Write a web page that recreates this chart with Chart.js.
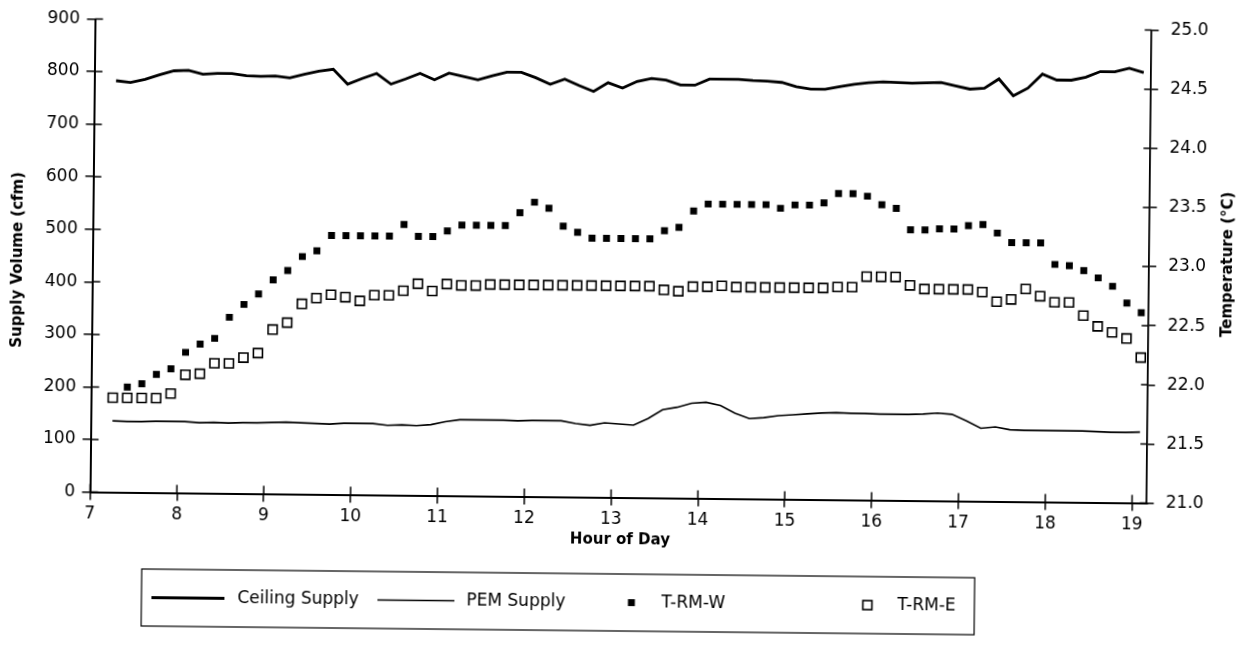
<!DOCTYPE html>
<html>
<head>
<meta charset="utf-8">
<title>Supply Volume and Room Temperature</title>
<script src="https://cdn.jsdelivr.net/npm/chart.js@4.4.1/dist/chart.umd.min.js"></script>
<style>
  html, body { margin: 0; padding: 0; background: #fff; overflow: hidden; }
  #wrap { width: 1246px; height: 650px; }
  /* the sheet sits slightly turned on the page */
  #chart { transform-origin: 620px 260px; transform: rotate(0.6deg); }
</style>
</head>
<body>
<div id="wrap"><canvas id="chart" width="1246" height="650"></canvas></div>
<script>
// 10-minute readings
const times = [
  '7:15', '7:25', '7:35', '7:45', '7:55',
  '8:05', '8:15', '8:25', '8:35', '8:45', '8:55',
  '9:05', '9:15', '9:25', '9:35', '9:45', '9:55',
  '10:05', '10:15', '10:25', '10:35', '10:45', '10:55',
  '11:05', '11:15', '11:25', '11:35', '11:45', '11:55',
  '12:05', '12:15', '12:25', '12:35', '12:45', '12:55',
  '13:05', '13:15', '13:25', '13:35', '13:45', '13:55',
  '14:05', '14:15', '14:25', '14:35', '14:45', '14:55',
  '15:05', '15:15', '15:25', '15:35', '15:45', '15:55',
  '16:05', '16:15', '16:25', '16:35', '16:45', '16:55',
  '17:05', '17:15', '17:25', '17:35', '17:45', '17:55',
  '18:05', '18:15', '18:25', '18:35', '18:45', '18:55',
  '19:05'
];

// supply air volume, cfm
const ceilingSupply = [
  783, 780, 786, 795, 803, 804, 797, 799, 799, 795,
  794, 795, 792, 799, 805, 809, 781, 792, 802, 782,
  792, 803, 791, 804, 798, 792, 800, 807, 807, 797,
  785, 795, 783, 772, 789, 779, 792, 798, 795, 786,
  786, 798, 798, 798, 796, 795, 793, 785, 781, 781,
  786, 791, 794, 796, 795, 794, 795, 796, 790, 784,
  786, 804, 772, 787, 814, 803, 803, 809, 820, 820,
  827, 819
];
const pemSupply = [
  136, 135, 135, 136, 136, 136, 134, 135, 134, 135,
  135, 136, 137, 136, 135, 134, 136, 136, 136, 133,
  134, 133, 135, 141, 145, 145, 145, 145, 144, 145,
  145, 145, 140, 137, 142, 140, 138, 151, 168, 173,
  181, 183, 177, 163, 153, 155, 159, 161, 163, 165,
  166, 165, 165, 164, 164, 164, 165, 167, 165, 153,
  139, 142, 137, 136, 136, 136, 136, 136, 135, 134,
  134, 135
];

// room temperatures, deg C
const tRmW = [
  null, 21.89, 21.92, 22.00, 22.05, 22.19, 22.26, 22.31, 22.49, 22.60,
  22.69, 22.81, 22.89, 23.01, 23.06, 23.19, 23.19, 23.19, 23.19, 23.19,
  23.29, 23.19, 23.19, 23.24, 23.29, 23.29, 23.29, 23.29, 23.40, 23.49,
  23.44, 23.29, 23.24, 23.19, 23.19, 23.19, 23.19, 23.19, 23.26, 23.29,
  23.43, 23.49, 23.49, 23.49, 23.49, 23.49, 23.46, 23.49, 23.49, 23.51,
  23.59, 23.59, 23.57, 23.50, 23.47, 23.29, 23.29, 23.30, 23.30, 23.33,
  23.34, 23.27, 23.19, 23.19, 23.19, 23.01, 23.00, 22.96, 22.90, 22.83,
  22.69, 22.61
];
const tRmE = [
  21.80, 21.80, 21.80, 21.80, 21.84, 22.00, 22.01, 22.10, 22.10, 22.15,
  22.19, 22.39, 22.45, 22.61, 22.66, 22.69, 22.67, 22.64, 22.69, 22.69,
  22.73, 22.79, 22.73, 22.79, 22.78, 22.78, 22.79, 22.79, 22.79, 22.79,
  22.79, 22.79, 22.79, 22.79, 22.79, 22.79, 22.79, 22.79, 22.76, 22.75,
  22.79, 22.79, 22.80, 22.79, 22.79, 22.79, 22.79, 22.79, 22.79, 22.79,
  22.80, 22.80, 22.89, 22.89, 22.89, 22.82, 22.79, 22.79, 22.79, 22.79,
  22.77, 22.69, 22.71, 22.80, 22.74, 22.69, 22.69, 22.58, 22.49, 22.44,
  22.39, 22.23
];

const hourTicks = [7, 8, 9, 10, 11, 12, 13, 14, 15, 16, 17, 18, 19];
const cfmTicks = [0, 100, 200, 300, 400, 500, 600, 700, 800, 900];
const tempTicks = [21.0, 21.5, 22.0, 22.5, 23.0, 23.5, 24.0, 24.5, 25.0];

const FONT = 'DejaVu Sans';
Chart.defaults.font.family = FONT;
Chart.defaults.color = '#000';

function toHours(t) {
  const [h, m] = t.split(':').map(Number);
  return h + m / 60;
}
const hours = times.map(toHours);
const asPoints = vals => vals.map((v, i) => ({ x: hours[i], y: v }));

// plot box inside the 1246x650 canvas
const AREA = { left: 92.5, right: 1149.3, top: 24.5, bottom: 497.6 };

const setTicks = list => scale => { scale.ticks = list.map(v => ({ value: v })); };

// short tick halves that cross into the plot
const innerTicks = {
  id: 'innerTicks',
  afterDatasetsDraw(chart) {
    const { ctx, chartArea: a, scales } = chart;
    ctx.save();
    ctx.strokeStyle = '#000';
    ctx.lineWidth = 1.5;
    ctx.beginPath();
    scales.x.ticks.forEach(t => {
      const x = scales.x.getPixelForValue(t.value);
      ctx.moveTo(x, a.bottom);
      ctx.lineTo(x, a.bottom - 8);
    });
    scales.yCfm.ticks.forEach(t => {
      const y = scales.yCfm.getPixelForValue(t.value);
      ctx.moveTo(a.left, y);
      ctx.lineTo(a.left + 8, y);
    });
    scales.yTemp.ticks.forEach(t => {
      const y = scales.yTemp.getPixelForValue(t.value);
      ctx.moveTo(a.right, y);
      ctx.lineTo(a.right - 7, y);
    });
    ctx.stroke();
    ctx.restore();
  }
};

function rotatedText(ctx, text, x, y) {
  ctx.save();
  ctx.translate(x, y);
  ctx.rotate(-Math.PI / 2);
  ctx.fillText(text, 0, 0);
  ctx.restore();
}

const axisTitles = {
  id: 'axisTitles',
  afterDraw(chart) {
    const { ctx, chartArea: a } = chart;
    const midY = (a.top + a.bottom) / 2;
    ctx.save();
    ctx.fillStyle = '#000';
    ctx.font = 'bold 15px "' + FONT + '"';
    ctx.textAlign = 'center';
    ctx.textBaseline = 'middle';
    ctx.fillText('Hour of Day', (a.left + a.right) / 2 + 2, 540);
    rotatedText(ctx, 'Supply Volume (cfm)', 18, midY + 5);
    rotatedText(ctx, 'Temperature (°C)', 1228, midY - 3);
    ctx.restore();
  }
};

// boxed legend under the chart
const legendBox = {
  id: 'legendBox',
  afterDraw(chart) {
    const { ctx } = chart;
    const box = { left: 145, top: 574, right: 978, bottom: 631 };
    const cy = (box.top + box.bottom) / 2;
    const slots = [
      { x0: 155, x1: 228, tx: 241 },
      { x0: 381, x1: 458, tx: 470 },
      { mx: 635, tx: 665 },
      { mx: 871, tx: 901 }
    ];
    ctx.save();
    ctx.strokeStyle = '#000';
    ctx.lineWidth = 1.2;
    ctx.strokeRect(box.left, box.top, box.right - box.left, box.bottom - box.top);
    ctx.font = '17px "' + FONT + '"';
    ctx.textBaseline = 'middle';
    ctx.textAlign = 'left';
    chart.data.datasets.forEach((ds, i) => {
      const s = slots[i];
      if (ds.showLine !== false) {
        ctx.lineWidth = ds.borderWidth;
        ctx.strokeStyle = ds.borderColor;
        ctx.beginPath();
        ctx.moveTo(s.x0, cy);
        ctx.lineTo(s.x1, cy);
        ctx.stroke();
      } else {
        const side = Math.SQRT2 * ds.pointRadius;
        ctx.fillStyle = ds.pointBackgroundColor;
        ctx.fillRect(s.mx - side / 2, cy - side / 2, side, side);
        if (ds.pointBorderWidth) {
          ctx.lineWidth = ds.pointBorderWidth;
          ctx.strokeStyle = ds.pointBorderColor;
          ctx.strokeRect(s.mx - side / 2, cy - side / 2, side, side);
        }
      }
      ctx.fillStyle = '#000';
      ctx.fillText(ds.label, s.tx, cy);
    });
    ctx.restore();
  }
};

new Chart(document.getElementById('chart'), {
  type: 'line',
  data: {
    datasets: [
      {
        label: 'Ceiling Supply',
        data: asPoints(ceilingSupply),
        yAxisID: 'yCfm',
        borderColor: '#000',
        borderWidth: 2.8,
        pointRadius: 0,
        tension: 0,
        order: 3
      },
      {
        label: 'PEM Supply',
        data: asPoints(pemSupply),
        yAxisID: 'yCfm',
        borderColor: '#000',
        borderWidth: 1.6,
        pointRadius: 0,
        tension: 0,
        order: 2
      },
      {
        label: 'T-RM-W',
        data: asPoints(tRmW),
        yAxisID: 'yTemp',
        showLine: false,
        pointStyle: 'rect',
        pointRadius: 4.9,
        pointBorderWidth: 0,
        pointBackgroundColor: '#000',
        pointBorderColor: '#000',
        order: 1
      },
      {
        label: 'T-RM-E',
        data: asPoints(tRmE),
        yAxisID: 'yTemp',
        showLine: false,
        pointStyle: 'rect',
        pointRadius: 6.4,
        pointBorderWidth: 1.6,
        pointBackgroundColor: '#fff',
        pointBorderColor: '#000',
        order: 0
      }
    ]
  },
  options: {
    responsive: false,
    animation: false,
    events: [],
    layout: { padding: { left: 0, right: 0, top: AREA.top, bottom: 0 } },
    plugins: {
      legend: { display: false },
      tooltip: { enabled: false }
    },
    scales: {
      x: {
        type: 'linear',
        min: 7,
        max: 19.17,
        afterBuildTicks: setTicks(hourTicks),
        afterFit: s => { s.height = 650 - AREA.bottom; },
        border: { display: true, color: '#000', width: 2 },
        grid: { drawOnChartArea: false, drawTicks: true, tickLength: 8, color: '#000', lineWidth: 1.5 },
        ticks: { font: { size: 17 }, padding: 4, maxRotation: 0, autoSkip: false, includeBounds: false }
      },
      yCfm: {
        type: 'linear',
        position: 'left',
        min: 0,
        max: 900,
        afterBuildTicks: setTicks(cfmTicks),
        afterFit: s => { s.width = AREA.left; },
        border: { display: true, color: '#000', width: 2 },
        grid: { drawOnChartArea: false, drawTicks: true, tickLength: 8, color: '#000', lineWidth: 1.5 },
        ticks: { font: { size: 17 }, padding: 7 }
      },
      yTemp: {
        type: 'linear',
        position: 'right',
        min: 21,
        max: 25,
        afterBuildTicks: setTicks(tempTicks),
        afterFit: s => { s.width = 1246 - AREA.right; },
        border: { display: true, color: '#000', width: 1.8 },
        grid: { drawOnChartArea: false, drawTicks: true, tickLength: 7, color: '#000', lineWidth: 1.5 },
        ticks: { font: { size: 17 }, padding: 12, callback: v => v.toFixed(1) }
      }
    }
  },
  plugins: [innerTicks, axisTitles, legendBox]
});
</script>
</body>
</html>
